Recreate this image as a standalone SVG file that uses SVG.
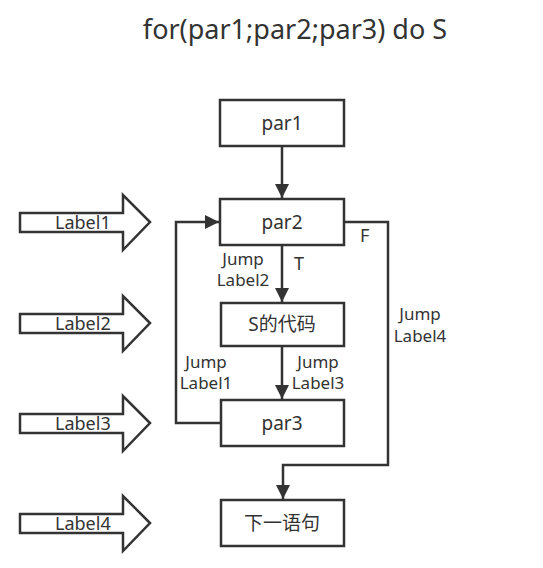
<svg xmlns="http://www.w3.org/2000/svg" width="543" height="568" viewBox="0 0 543 568">
<style>
text{font-family:"Noto Sans","Noto Sans CJK SC",sans-serif;fill:#333;}
.box{fill:#fff;stroke:#333;stroke-width:2.5;}
.big{fill:#fff;stroke:#333;stroke-width:2.5;stroke-linejoin:miter;}
.lbl{font-size:18px;}
.bl{font-size:19px;text-anchor:middle;}
.j{font-size:17px;text-anchor:middle;}
.c{fill:none;stroke:#333;stroke-width:2.5;}
</style>
<defs>
<marker id="ah" viewBox="0 0 14 20" refX="14" refY="10" markerWidth="14" markerHeight="20" markerUnits="userSpaceOnUse" orient="auto">
<path d="M0,3 L14,10 L0,17 Z" fill="#333"/>
</marker>
</defs>
<rect width="543" height="568" fill="#fff"/>
<text x="295" y="39" font-size="27" text-anchor="middle">for(par1;par2;par3) do S</text>

<g id="arrow-label1"><path class="big" d="M20,213 H123 V195 L150,222 L123,250 V232 H20 Z"/><text class="lbl" x="55" y="229">Label1</text></g>
<g id="arrow-label2"><path class="big" d="M20,314 H123 V296 L150,323 L123,351 V333 H20 Z"/><text class="lbl" x="55" y="330">Label2</text></g>
<g id="arrow-label3"><path class="big" d="M20,414 H123 V396 L150,423 L123,451 V433 H20 Z"/><text class="lbl" x="55" y="430">Label3</text></g>
<g id="arrow-label4"><path class="big" d="M20,514 H123 V496 L150,523 L123,551 V533 H20 Z"/><text class="lbl" x="55" y="530">Label4</text></g>

<g id="connectors">
<path class="c" d="M282,146 V198" marker-end="url(#ah)"/>
<path class="c" d="M282,245 V302" marker-end="url(#ah)"/>
<path class="c" d="M282,346 V399" marker-end="url(#ah)"/>
<path class="c" d="M220,423 H176 V222 H219" marker-end="url(#ah)"/>
<path class="c" d="M344,222 H388 V465 H283 V499" marker-end="url(#ah)"/>
<text class="j" x="243" y="265">Jump</text>
<text class="j" x="243" y="286">Label2</text>
<text font-size="18" x="294" y="270">T</text>
<text font-size="18" x="360" y="242">F</text>
<text class="j" x="206" y="368">Jump</text>
<text class="j" x="206" y="389">Label1</text>
<text class="j" x="318" y="368">Jump</text>
<text class="j" x="318" y="389">Label3</text>
<text class="j" x="420" y="320">Jump</text>
<text class="j" x="420" y="342">Label4</text>
</g>

<g id="par1"><rect class="box" x="220" y="100" width="124" height="46"/><text class="bl" x="282" y="130">par1</text></g>
<g id="par2"><rect class="box" x="220" y="199" width="124" height="46"/><text class="bl" x="282" y="229">par2</text></g>
<g id="s-code"><rect class="box" x="221" y="303" width="123" height="43"/><text class="bl" x="282" y="331">S的代码</text></g>
<g id="par3"><rect class="box" x="221" y="400" width="123" height="46"/><text class="bl" x="282" y="430">par3</text></g>
<g id="next"><rect class="box" x="221" y="500" width="123" height="46"/><text class="bl" x="282" y="530">下一语句</text></g>
</svg>
